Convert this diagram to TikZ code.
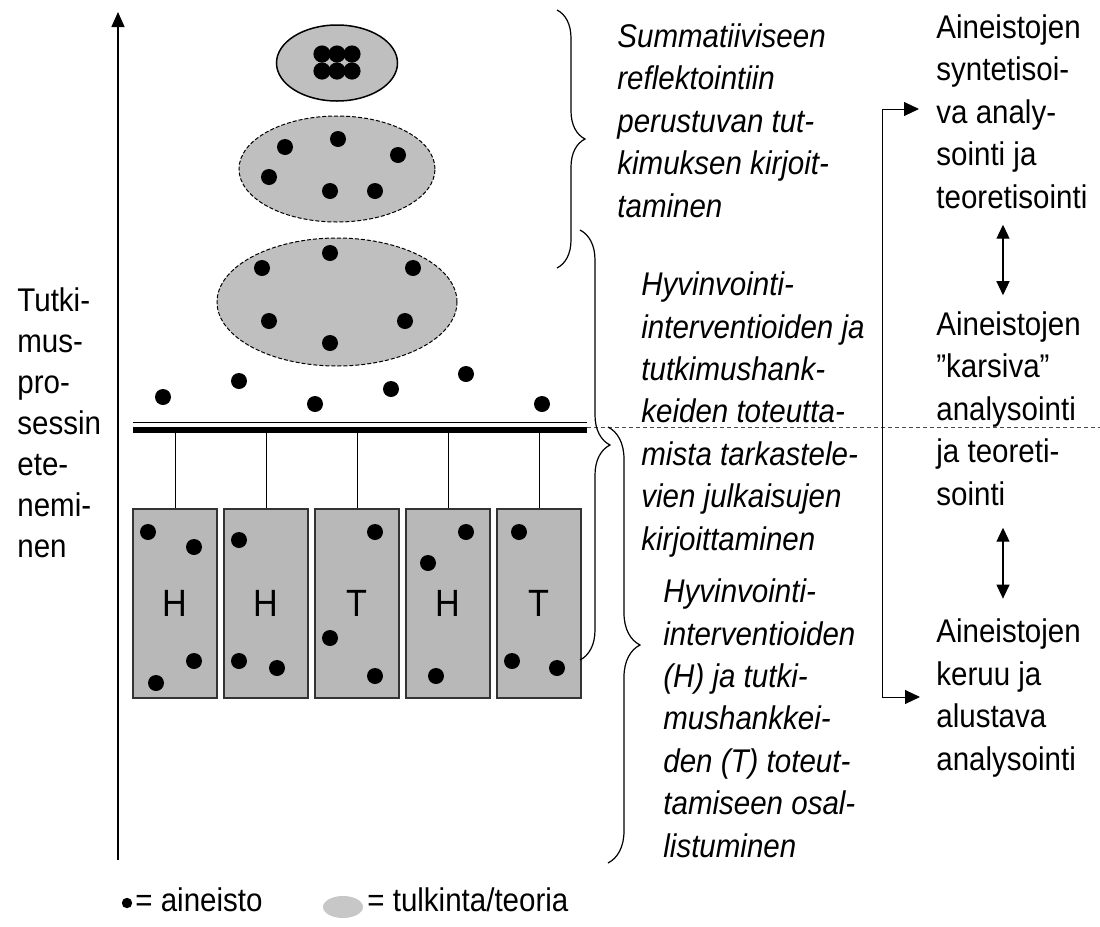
\documentclass[tikz,border=0pt]{standalone}
\usepackage{fontspec}
\setmainfont[FakeStretch=0.9]{Liberation Sans}
\usetikzlibrary{arrows.meta,decorations.pathreplacing,calc}

\tikzset{
  cloud/.style={fill=black!25, draw=black, dash pattern=on 2pt off 1pt, line width=0.5pt},
  hbox/.style={draw=black!80, line width=1pt, fill=black!28, minimum width=42pt,
    minimum height=94.5pt, inner sep=0pt, font=\fontsize{19}{19}\selectfont},
  lbl/.style={anchor=base west, align=left, inner sep=0pt, font=\fontsize{16.4}{21.2}\selectfont},
  ital/.style={lbl, font=\fontsize{16.4}{21.2}\selectfont\itshape},
  brc/.style={decorate, decoration={brace, amplitude=#1}, line width=0.6pt},
  arr/.style={{Triangle[length=7.5pt,width=7pt]}-{Triangle[length=7.5pt,width=7pt]}, line width=0.5pt},
  dbl/.style={{Triangle[length=7pt,width=6.5pt]}-{Triangle[length=7pt,width=6.5pt]}, line width=0.6pt},
}

\begin{document}
\begin{tikzpicture}[x=0.5pt, y=-0.5pt]
\useasboundingbox (0,0) rectangle (1100,927);

% axis (text nodes are placed by the baseline of their last line)
\coordinate (ax0) at (118,860);
\coordinate (ax1) at (118,12);
\draw[-{Triangle[length=7.5pt,width=6.5pt]}, line width=0.7pt] (ax0) -- (ax1);
\node[lbl, font=\fontsize{16.4}{20.5}\selectfont] (pros) at (17,557)
  {Tutki-\\mus-\\pro-\\sessin\\ete-\\nemi-\\nen};

% interpretations
\draw[fill=black!25, line width=0.75pt] (337,63) ellipse [x radius=30.25pt, y radius=19pt];
\draw[cloud] (337,169) ellipse [x radius=49pt, y radius=26.5pt];
\draw[cloud] (337,302) ellipse [x radius=60pt, y radius=32pt];
\foreach \x/\y in {322/54,337/54,352/54,322/71,337/71,352/71}
  \fill (\x,\y) circle [radius=4.3pt];
\foreach \x/\y in {285/147,338/139,398/155,269/177,330/191,375/191,
    330/253,262/268,413/268,269/321,405/321,330/343,
    163/397,239/381,315/404,391/389,466/374,542/404}
  \fill (\x,\y) circle [radius=4pt];

% bar
\coordinate (bar) at (587,433);
\fill (133,427) rectangle (bar);
\draw[line width=0.8pt] (133,422.5) -- (587,422.5);
\draw[black!70, dash pattern=on 2pt off 1.5pt, line width=0.5pt] (587,427) -- (1100,427);

% interventions and projects
\foreach \n/\x/\t in {1/175/H,2/266/H,3/357/T,4/448/H,5/539/T}{
  \node[hbox] (b\n) at (\x,603.5) {\t};
  \draw[line width=0.5pt] (b\n.north) -- (b\n.north |- bar);
}
\foreach \x/\y in {148/532,194/547,194/661,156/683,
    239/540,239/661,277/668,
    375/532,330/638,375/676,
    466/532,428/563,436/676,
    519/532,512/661,557/668}
  \fill (\x,\y) circle [radius=4pt];

% braces
\draw[brc=14pt] (557,10) -- (557,268);
\draw[brc=15pt] (580,230) -- (580,660);
\draw[brc=16pt] (608,427) -- (608,863);

\node[ital] (sum) at (617,217)
  {Summatiiviseen\\reflektointiin\\perustuvan tut-\\kimuksen kirjoit-\\taminen};
\node[ital] (pub) at (641,550)
  {Hyvinvointi-\\interventioiden ja\\tutkimushank-\\keiden toteutta-\\mista tarkastele-\\vien julkaisujen\\kirjoittaminen};
\node[ital] (part) at (663,857)
  {Hyvinvointi-\\interventioiden\\(H) ja tutki-\\mushankkei-\\den (T) toteut-\\tamiseen osal-\\listuminen};

% analysis
\node[lbl] (syn) at (936,208) {Aineistojen\\syntetisoi-\\va analy-\\sointi ja\\teoretisointi};
\node[lbl] (kar) at (936,505) {Aineistojen\\”karsiva”\\analysointi\\ja teoreti-\\sointi};
\node[lbl] (ker) at (936,770) {Aineistojen\\keruu ja\\alustava\\analysointi};
\coordinate (vt) at (882,109);
\coordinate (vb) at (882,697);
\draw[arr] ($(syn.west |- vt)+(-17,0)$) -- (vt) -- (vb) -- ($(ker.west |- vb)+(-16,0)$);
\draw[dbl] ([xshift=33.5pt,yshift=-8pt]syn.south west) -- ([xshift=33.5pt,yshift=8pt]kar.north west);
\draw[dbl] ([xshift=33.5pt,yshift=-11pt]kar.south west) -- ([xshift=33.5pt,yshift=10pt]ker.north west);

% legend
\fill (127,903) circle [radius=2.6pt];
\node[lbl] (leg1) at (135,911) {= aineisto};
\fill[black!22] (343,907) ellipse [x radius=10pt, y radius=5.5pt];
\node[lbl] (leg2) at (367,911) {= tulkinta/teoria};
\end{tikzpicture}
\end{document}
